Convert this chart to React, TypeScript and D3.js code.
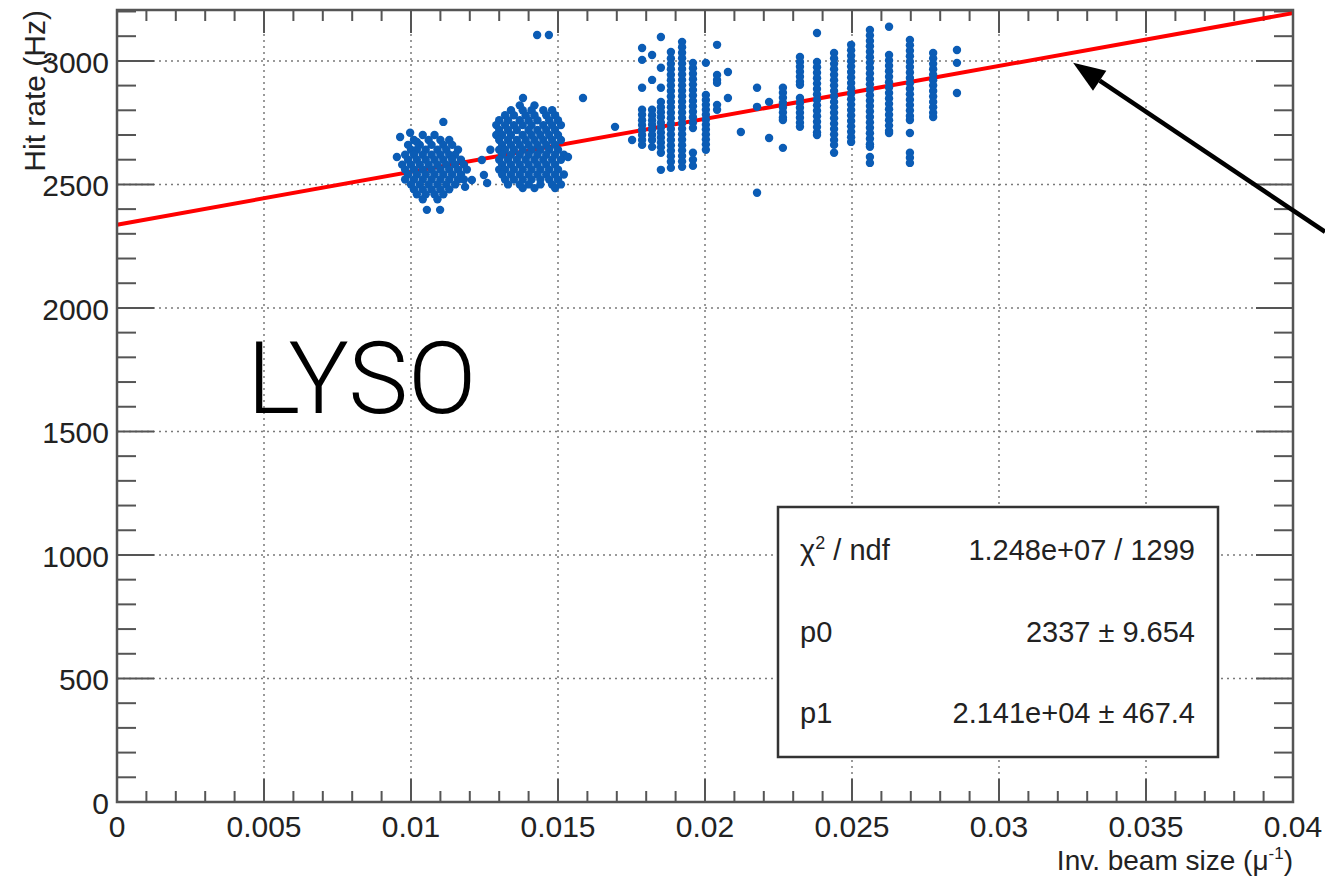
import React from 'react';
import * as d3 from 'd3';

const W = 1325;
const H = 877;
const PLOT = { left: 117, right: 1293, top: 10, bottom: 802 };
const X_DOMAIN: [number, number] = [0, 0.04];
const Y_DOMAIN: [number, number] = [0, 3206];

const xTickValues = [0, 0.005, 0.01, 0.015, 0.02, 0.025, 0.03, 0.035, 0.04];
const xTickLabels = ['0', '0.005', '0.01', '0.015', '0.02', '0.025', '0.03', '0.035', '0.04'];
const yTickValues = [0, 500, 1000, 1500, 2000, 2500, 3000];
const yTickLabels = ['0', '500', '1000', '1500', '2000', '2500', '3000'];

const FIT_P0 = 2337;
const FIT_P1 = 21410;

const statsLabels = ['p0', 'p1'];
const statsValues = ['2337 \u00b1 9.654', '2.141e+04 \u00b1 467.4'];
const chi2Value = '1.248e+07 / 1299';

// cluster around x = 0.011: rows of [y, xs]
const blob1Rows: [number, number[]][] = [
  [2700, [0.0104, 0.0108]],
  [2680, [0.0101, 0.0106, 0.011, 0.0113]],
  [2660, [0.0099, 0.0103, 0.0107, 0.0111, 0.0114]],
  [2640, [0.01, 0.0102, 0.0105, 0.0109, 0.0112, 0.0116]],
  [2620, [0.0098, 0.0101, 0.0104, 0.0107, 0.011, 0.0113, 0.0115]],
  [2600, [0.0099, 0.0102, 0.0105, 0.0108, 0.0111, 0.0114, 0.0117]],
  [2580, [0.0097, 0.01, 0.0103, 0.0106, 0.0109, 0.0112, 0.0115, 0.0118]],
  [2560, [0.0098, 0.0101, 0.0104, 0.0107, 0.011, 0.0113, 0.0116, 0.0119]],
  [2540, [0.0099, 0.0102, 0.0105, 0.0108, 0.0111, 0.0114, 0.0117]],
  [2520, [0.0098, 0.0101, 0.0104, 0.0107, 0.011, 0.0113, 0.0116, 0.0118]],
  [2500, [0.01, 0.0103, 0.0106, 0.0109, 0.0112, 0.0115]],
  [2480, [0.0101, 0.0104, 0.0107, 0.011, 0.0113]],
  [2460, [0.0102, 0.0105, 0.0108, 0.0111]],
  [2440, [0.0104, 0.0109]],
];
const blob1Outliers: [number, number][] = [
  [0.0111, 2753], [0.00963, 2692], [0.00997, 2709], [0.0102, 2672], [0.00952, 2611],
  [0.01054, 2397], [0.01099, 2397], [0.01184, 2490], [0.01207, 2518],
];

// cluster around x = 0.014
const blob2Rows: [number, number[]][] = [
  [2820, [0.0137, 0.0142]],
  [2800, [0.0134, 0.0138, 0.0141, 0.0145, 0.0148]],
  [2780, [0.0132, 0.0135, 0.0139, 0.0142, 0.0146, 0.0149]],
  [2760, [0.013, 0.0133, 0.0137, 0.014, 0.0143, 0.0147, 0.015]],
  [2740, [0.0129, 0.0132, 0.0135, 0.0138, 0.0141, 0.0145, 0.0148, 0.0151]],
  [2720, [0.013, 0.0133, 0.0136, 0.014, 0.0143, 0.0146, 0.0149]],
  [2700, [0.0129, 0.0131, 0.0134, 0.0138, 0.0141, 0.0144, 0.0147, 0.015]],
  [2680, [0.013, 0.0133, 0.0136, 0.0139, 0.0142, 0.0145, 0.0148, 0.0151]],
  [2660, [0.0131, 0.0134, 0.0137, 0.014, 0.0143, 0.0146, 0.0149]],
  [2640, [0.013, 0.0132, 0.0135, 0.0138, 0.0141, 0.0144, 0.0147, 0.015]],
  [2620, [0.0131, 0.0134, 0.0137, 0.014, 0.0143, 0.0146, 0.0149, 0.0152]],
  [2600, [0.013, 0.0133, 0.0136, 0.0139, 0.0142, 0.0145, 0.0148, 0.0151]],
  [2580, [0.0131, 0.0134, 0.0137, 0.014, 0.0143, 0.0146, 0.0149]],
  [2560, [0.013, 0.0132, 0.0135, 0.0138, 0.0141, 0.0144, 0.0147, 0.015]],
  [2540, [0.0131, 0.0134, 0.0137, 0.014, 0.0143, 0.0146, 0.0149, 0.0152]],
  [2520, [0.0132, 0.0135, 0.0138, 0.0141, 0.0144, 0.0147, 0.015]],
  [2500, [0.0133, 0.0137, 0.014, 0.0144, 0.0148, 0.0151]],
  [2485, [0.0138, 0.0142, 0.0149]],
];
const blob2Outliers: [number, number][] = [
  [0.01381, 2850], [0.01429, 3105], [0.01469, 3105], [0.01534, 2611], [0.01585, 2850],
  [0.01241, 2599], [0.01248, 2538], [0.01259, 2506], [0.0127, 2640],
];

// vertical columns of points: [x, ys]
const columns: [number, number[]][] = [
  [0.01694, [2733]],
  [0.01752, [2680]],
  [0.01786, [3052, 3004, 2891, 2802, 2782, 2760, 2740, 2720, 2700, 2680, 2660]],
  [0.0182, [3024, 2923, 2802, 2780, 2760, 2742, 2722, 2700, 2680, 2652]],
  [0.0185, [3097, 2972, 2891, 2834, 2812, 2792, 2772, 2750, 2730, 2710, 2690, 2670, 2650, 2628, 2559]],
  [0.01884, [3036, 3010, 2988, 2966, 2944, 2922, 2900, 2878, 2856, 2834, 2812, 2790, 2768, 2746, 2724, 2702, 2680, 2658, 2636, 2614, 2592, 2567]],
  [0.01922, [3077, 3055, 3033, 3011, 2989, 2967, 2945, 2923, 2901, 2879, 2857, 2835, 2813, 2791, 2769, 2747, 2725, 2703, 2681, 2659, 2637, 2615, 2593, 2571]],
  [0.01959, [2992, 2970, 2948, 2926, 2904, 2882, 2860, 2838, 2816, 2794, 2772, 2750, 2728, 2628, 2600, 2575]],
  [0.02003, [2992, 2862, 2842, 2822, 2802, 2782, 2762, 2742, 2722, 2702, 2682, 2662, 2640]],
  [0.02041, [3065, 2943, 2923, 2911, 2822, 2802]],
  [0.02078, [2955, 2850]],
  [0.02122, [2712]],
  [0.02177, [2891, 2814, 2466]],
  [0.02218, [2834, 2688]],
  [0.02265, [2891, 2871, 2851, 2831, 2811, 2791, 2771, 2761, 2648]],
  [0.02323, [3016, 2996, 2976, 2956, 2936, 2916, 2903, 2850, 2830, 2810, 2790, 2770, 2750, 2733]],
  [0.02381, [3113, 2996, 2974, 2952, 2930, 2908, 2886, 2864, 2842, 2820, 2798, 2776, 2754, 2732, 2710, 2700]],
  [0.02439, [3032, 3010, 2988, 2966, 2944, 2922, 2900, 2878, 2856, 2834, 2812, 2790, 2768, 2746, 2724, 2702, 2680, 2660, 2628]],
  [0.02497, [3065, 3043, 3021, 2999, 2977, 2955, 2933, 2911, 2889, 2867, 2845, 2823, 2801, 2779, 2757, 2735, 2713, 2691, 2672]],
  [0.02561, [3125, 3103, 3081, 3059, 3037, 3015, 2993, 2971, 2949, 2927, 2905, 2883, 2861, 2839, 2817, 2795, 2773, 2751, 2729, 2707, 2685, 2663, 2652, 2611, 2587]],
  [0.02626, [3138, 3024, 3002, 2980, 2958, 2936, 2914, 2892, 2870, 2848, 2826, 2804, 2782, 2760, 2738, 2716, 2708]],
  [0.02697, [3085, 3063, 3041, 3019, 2997, 2975, 2953, 2931, 2909, 2887, 2865, 2843, 2821, 2799, 2777, 2761, 2708, 2628, 2608, 2587]],
  [0.02776, [3032, 3010, 2988, 2966, 2944, 2922, 2900, 2878, 2856, 2834, 2812, 2790, 2773]],
  [0.02857, [3044, 2992, 2870]],
];

// annotation arrow in data coordinates: [tip, tail]
const arrowTip: [number, number] = [0.03252, 2992];
const arrowTail: [number, number] = [0.04109, 2308];

const FONT = '"Liberation Sans", Arial, Helvetica, sans-serif';
const AXIS_COLOR = '#555';
const MARKER_COLOR = '#0b5cb5';

export default function App() {
  const x = d3.scaleLinear().domain(X_DOMAIN).range([PLOT.left, PLOT.right]);
  const y = d3.scaleLinear().domain(Y_DOMAIN).range([PLOT.bottom, PLOT.top]);

  const xMinor = d3.range(0, 41).map((i) => i * 0.001);
  const yMinor = d3.range(0, 33).map((i) => i * 100);

  const points: [number, number][] = [];
  blob1Rows.forEach(([yy, xs]) => xs.forEach((xx) => points.push([xx, yy])));
  blob1Outliers.forEach((p) => points.push(p));
  blob2Rows.forEach(([yy, xs]) => xs.forEach((xx) => points.push([xx, yy])));
  blob2Outliers.forEach((p) => points.push(p));
  columns.forEach(([xx, ys]) => ys.forEach((yy) => points.push([xx, yy])));

  const fitLine = d3.line<number>()
    .x((d) => x(d))
    .y((d) => y(FIT_P0 + FIT_P1 * d));
  const fitPath = fitLine([X_DOMAIN[0], X_DOMAIN[1]]) || '';

  // arrow
  const tx = x(arrowTip[0]), ty = y(arrowTip[1]);
  const lx = x(arrowTail[0]), ly = y(arrowTail[1]);
  const dx = lx - tx, dy = ly - ty;
  const len = Math.sqrt(dx * dx + dy * dy);
  const ux = dx / len, uy = dy / len;
  const headLen = 32, headHalf = 12;
  const bx = tx + ux * headLen, by = ty + uy * headLen;
  const px = -uy, py = ux;
  const head = `${tx},${ty} ${bx + px * headHalf},${by + py * headHalf} ${bx - px * headHalf},${by - py * headHalf}`;

  const plotW = PLOT.right - PLOT.left;
  const plotH = PLOT.bottom - PLOT.top;

  // stats box
  const box = { x: 778, y: 507, w: 440, h: 250 };

  return (
    <svg width={W} height={H} style={{ position: 'absolute', left: 0, top: 0, background: '#fff' }} fontFamily={FONT}>
      <rect x={0} y={0} width={W} height={H} fill="#fff" />
      {/* grid */}
      <g stroke="#7a7a7a" strokeWidth={1.5} strokeDasharray="2,4">
        {xTickValues.slice(1, -1).map((v) => (
          <line key={'gx' + v} x1={x(v)} x2={x(v)} y1={PLOT.top} y2={PLOT.bottom} />
        ))}
        {yTickValues.slice(1).map((v) => (
          <line key={'gy' + v} x1={PLOT.left} x2={PLOT.right} y1={y(v)} y2={y(v)} />
        ))}
      </g>
      {/* ticks */}
      <g stroke={AXIS_COLOR} strokeWidth={2}>
        {xMinor.map((v, i) => {
          const major = i % 5 === 0;
          const L = major ? 23 : 11;
          return (
            <g key={'xt' + i}>
              <line x1={x(v)} x2={x(v)} y1={PLOT.bottom} y2={PLOT.bottom - L} />
              <line x1={x(v)} x2={x(v)} y1={PLOT.top} y2={PLOT.top + L} />
            </g>
          );
        })}
        {yMinor.map((v, i) => {
          const major = i % 5 === 0;
          const L = major ? 37 : 19;
          return (
            <g key={'yt' + i}>
              <line x1={PLOT.left} x2={PLOT.left + L} y1={y(v)} y2={y(v)} />
              <line x1={PLOT.right} x2={PLOT.right - L} y1={y(v)} y2={y(v)} />
            </g>
          );
        })}
      </g>
      {/* fit line */}
      <path d={fitPath} stroke="#ff0000" strokeWidth={4} fill="none" />
      {/* data points */}
      <g fill={MARKER_COLOR}>
        {points.map(([a, b], i) => (
          <circle key={i} cx={x(a)} cy={y(b)} r={4.2} />
        ))}
      </g>
      {/* frame */}
      <rect x={PLOT.left} y={PLOT.top} width={plotW} height={plotH} fill="none" stroke={AXIS_COLOR} strokeWidth={2.5} />
      {/* tick labels */}
      <g fontSize={30} fill="#222">
        {xTickValues.map((v, i) => (
          <text key={'xl' + i} x={x(v)} y={PLOT.bottom + 35} textAnchor="middle">{xTickLabels[i]}</text>
        ))}
        {yTickValues.map((v, i) => (
          <text key={'yl' + i} x={PLOT.left - 8} y={y(v) + 12} textAnchor="end">{yTickLabels[i]}</text>
        ))}
      </g>
      {/* axis titles */}
      <text x={PLOT.right} y={870} textAnchor="end" fontSize={28} fill="#222">
        Inv. beam size (μ<tspan dy={-11} fontSize={17}>-1</tspan><tspan dy={11}>)</tspan>
      </text>
      <text transform={`translate(45, ${PLOT.top}) rotate(-90)`} textAnchor="end" fontSize={30} fill="#222">
        Hit rate (Hz)
      </text>
      {/* LYSO */}
      <text x={247} y={413} fontSize={101} fontFamily='Roboto, "Liberation Sans", sans-serif' fontWeight={300} fill="#000">LYSO</text>
      {/* stats box */}
      <rect x={box.x} y={box.y} width={box.w} height={box.h} fill="#fff" stroke="#333" strokeWidth={2.5} />
      <g fontSize={29} fill="#222">
        <text x={800} y={560}>χ<tspan dy={-11} fontSize={18}>2</tspan><tspan dy={11}> / ndf</tspan></text>
        <text x={1195} y={560} textAnchor="end">{chi2Value}</text>
        {statsLabels.map((lab, i) => (
          <g key={lab}>
            <text x={800} y={642 + i * 81}>{lab}</text>
            <text x={1195} y={642 + i * 81} textAnchor="end">{statsValues[i]}</text>
          </g>
        ))}
      </g>
      {/* arrow */}
      <line x1={lx} y1={ly} x2={bx} y2={by} stroke="#000" strokeWidth={4.5} />
      <polygon points={head} fill="#000" />
    </svg>
  );
}
